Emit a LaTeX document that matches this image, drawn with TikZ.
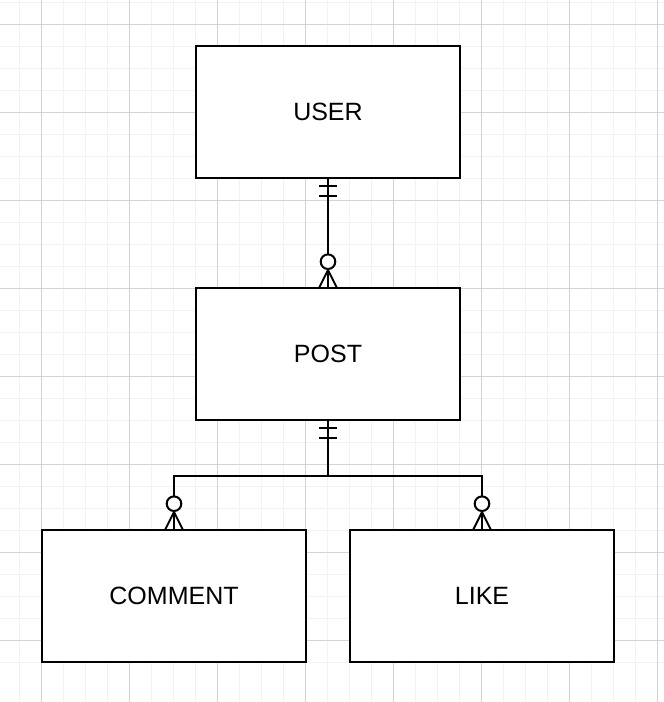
\documentclass[tikz,border=0pt]{standalone}
\usepackage{fontspec}
\setmainfont{Liberation Sans}
\usetikzlibrary{calc}
\definecolor{minorgrid}{HTML}{F2F2F2}
\definecolor{majorgrid}{HTML}{D3D3D3}
\tikzset{
  entity/.style={draw=black, line width=2pt, fill=white, minimum width=264pt,
    minimum height=132pt, inner sep=0pt, outer sep=0pt, font=\fontsize{25}{30}\selectfont},
  erline/.style={draw=black, line width=2pt},
  minorline/.style={draw=minorgrid, line width=1pt},
  majorline/.style={draw=majorgrid, line width=1pt},
  mandone/.pic={\draw[erline] (-8.7,8) -- (8.7,8) (-8.7,18) -- (8.7,18);},
  zeromany/.pic={\draw[erline] (-9,0) -- (0,-18) -- (9,0);
                 \draw[erline, fill=white] (0,-26.3) circle (7.3);}
}
\begin{document}
\begin{tikzpicture}[x=1pt, y=-1pt]
\useasboundingbox (0,0) rectangle (664,702);
\fill[white] (0,0) rectangle (664,702);
% grid
\foreach \i in {0,...,30} {
  \draw[minorline] ({19.3+22*\i},0) -- ({19.3+22*\i},702);
  \draw[minorline] (0,{2.3+22*\i}) -- (664,{2.3+22*\i});
}
\foreach \i in {0,...,7} {
  \draw[majorline] ({41.3+88*\i},0) -- ({41.3+88*\i},702);
  \draw[majorline] (0,{24.3+88*\i}) -- (664,{24.3+88*\i});
}
% entities
\node[entity] (user) at (328,112) {USER};
\node[entity] (post) at (328,354) {POST};
\node[entity] (comment) at (174,596) {COMMENT};
\node[entity] (like) at (482,596) {LIKE};
% connectors
\coordinate (j) at ($(post.south)+(0,56)$);
\draw[erline] (user.south) -- (post.north);
\draw[erline] (post.south) -- (j) -| (comment.north);
\draw[erline] (j) -| (like.north);
% markers
\pic at (user.south) {mandone};
\pic at (post.north) {zeromany};
\pic at (post.south) {mandone};
\pic at (comment.north) {zeromany};
\pic at (like.north) {zeromany};
\end{tikzpicture}
\end{document}
